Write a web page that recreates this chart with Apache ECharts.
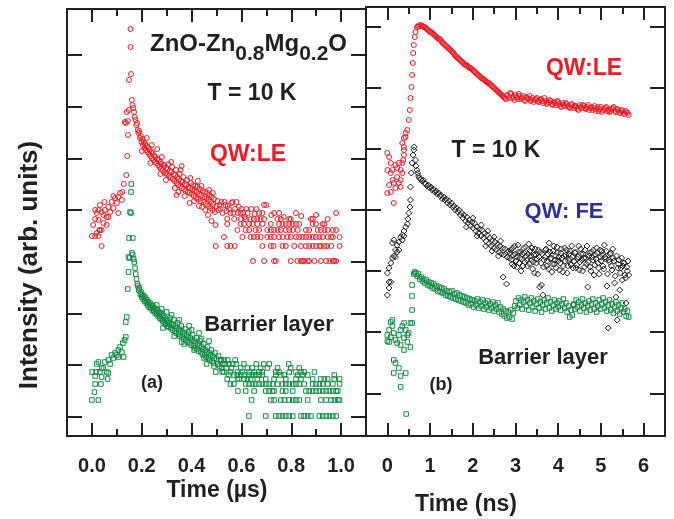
<!DOCTYPE html>
<html><head><meta charset="utf-8">
<script src="https://cdn.jsdelivr.net/npm/echarts@6.0.0/dist/echarts.min.js"></script>
<style>html,body{margin:0;padding:0;background:#fff}#c{width:674px;height:519px}</style>
</head><body><div id="c"></div>
<script>
// ---------- axis ticks / labels ----------
const leftTicks = [0, 0.2, 0.4, 0.6, 0.8, 1.0];
const leftMinor = [0.1, 0.3, 0.5, 0.7, 0.9];
const rightTicks = [0, 1, 2, 3, 4, 5, 6];
const rightMinor = [0.5, 1.5, 2.5, 3.5, 4.5, 5.5];
const leftYTicks = [19.3, 71, 122.7, 174.3, 226, 277.7, 329.3, 381];
const rightYTicks = [42.7, 103.8, 164.9, 226, 287.1, 348.2, 409.3];

// ---------- panel (a): QW:LE, time in µs, intensity arb. ----------
const aLE = [
[0.000,200],[0.005,211],[0.013,200],[0.013,217],[0.013,226],[0.019,223],[0.019,203],[0.026,200],[0.026,216],[0.026,226],[0.030,206],[0.032,206],[0.032,231],[0.039,206],[0.039,190],[0.039,224],[0.046,221],[0.046,213],[0.050,234],[0.052,226],[0.059,219],[0.059,211],[0.066,229],[0.066,219],[0.073,224],[0.079,234],[0.086,228],[0.086,240],[0.093,238],[0.100,233],[0.106,223],[0.106,239],[0.113,243],[0.120,236],[0.122,244],[0.128,252],
[0.132,314],[0.137,313],[0.138,261],[0.140,324],[0.142,280],[0.144,315],[0.145,301],[0.148,326],[0.149,356],[0.155,389],[0.155,407],[0.157,362],
[0.160,336],[0.163,331],[0.166,328],[0.169,324],[0.172,319],[0.175,316],[0.178,311],[0.181,313],[0.184,306],[0.187,303],[0.190,305],[0.193,298],[0.196,300],[0.199,294],[0.202,297],[0.205,291],[0.208,294],[0.211,288],[0.214,292],[0.217,286],[0.220,290],[0.223,284],[0.226,288],[0.229,282],[0.232,286],[0.235,280],[0.238,284],[0.241,278],[0.244,283],[0.247,276],[0.250,280],[0.253,274],[0.256,279],[0.259,273],[0.262,277],[0.265,271],[0.268,276],[0.271,269],[0.274,274],[0.277,267],[0.280,272],[0.283,266],[0.286,271],[0.289,264],[0.292,270],[0.295,263],[0.298,268],[0.301,262],[0.304,267],[0.307,272],[0.310,260],[0.313,265],[0.316,258],[0.319,264],[0.322,269],[0.325,257],[0.328,262],[0.331,255],[0.334,261],[0.337,266],[0.340,253],[0.343,259],[0.346,251],[0.349,257],[0.352,262],[0.355,250],[0.358,255],[0.361,248],[0.364,254],[0.367,259],[0.370,247],[0.373,252],[0.376,245],[0.379,251],[0.382,256],[0.385,244],[0.388,249],[0.391,243],[0.394,248],[0.397,253],[0.400,242],[0.403,247],[0.406,251],[0.409,240],[0.412,245],[0.415,250],[0.418,238],[0.421,244],[0.424,249],[0.427,237],[0.430,242],[0.433,247],[0.436,235],[0.439,241],[0.442,229],[0.445,245],[0.448,234],[0.451,239],[0.454,244],[0.457,232],[0.460,238],[0.463,243],[0.466,230],[0.469,236],[0.472,241],[0.475,228],[0.478,234],[0.481,239],[0.484,226],[0.487,232],[0.490,237],[0.493,224],[0.496,211],[0.497,190],[0.500,230],[0.504,235],[0.508,226],
[0.200,285],[0.220,298],[0.235,273],[0.240,291],[0.262,287],[0.275,262],[0.281,279],[0.297,256],[0.318,274],[0.333,248],[0.340,241],[0.347,244],[0.356,266],[0.360,270],[0.372,240],[0.392,233],[0.395,258],[0.410,235],[0.425,255],[0.430,230],[0.440,250],[0.455,226],[0.466,221],[0.470,246],[0.480,215],[0.485,243],
[0.540,225],[0.545,230],[0.560,233],[0.590,229],[0.613,219],[0.653,222],[0.720,221],[0.770,219],[0.840,220],[0.900,221]
];
const aLE_levels = [234, 231, 227, 223, 217, 212, 206, 199, 190, 175];
const aLE_levelTimes = [
[0.52,0.532,0.564,0.58],
[0.512,0.536,0.691,0.70],
[0.516,0.55,0.575,0.60,0.62,0.64,0.66],
[0.524,0.556,0.568,0.585,0.597,0.607,0.624,0.671,0.684,0.731,0.751,0.819,0.98],
[0.543,0.571,0.597,0.617,0.637,0.65,0.664,0.677,0.691,0.745,0.758,0.792,0.798,0.879,0.886,0.946],
[0.543,0.597,0.61,0.631,0.644,0.664,0.684,0.718,0.751,0.765,0.778,0.792,0.806,0.819,0.832,0.886,0.899,0.926,0.933],
[0.584,0.617,0.631,0.657,0.671,0.704,0.718,0.731,0.745,0.758,0.778,0.792,0.806,0.826,0.859,0.872,0.906,0.919,0.933,0.946,0.967,0.98],
[0.53,0.604,0.637,0.65,0.664,0.677,0.704,0.718,0.731,0.751,0.765,0.785,0.798,0.819,0.832,0.845,0.859,0.872,0.886,0.899,0.913,0.926,0.946,0.96,0.967,0.994],
[0.543,0.556,0.573,0.684,0.718,0.729,0.765,0.778,0.812,0.839,0.859,0.872,0.886,0.899,0.913,0.919,0.933,0.944,0.96,0.994],
[0.646,0.691,0.731,0.738,0.798,0.825,0.839,0.845,0.852,0.866,0.872,0.893,0.919,0.94,0.953,0.967,0.973,0.98]
];

// ---------- panel (a): Barrier layer ----------
const aBar = [
[0.000,36],[0.026,36],[0.010,44],[0.001,64],[0.013,52],[0.036,52],[0.013,60],[0.017,64],[0.019,72],[0.026,74],[0.032,64],[0.039,59],[0.039,68],[0.046,68],[0.052,74],[0.059,64],[0.063,57],[0.066,76],[0.066,63],[0.073,72],[0.079,81],[0.086,78],[0.093,83],[0.100,81],[0.106,86],[0.106,79],[0.113,89],[0.120,84],[0.124,93],[0.127,79],[0.131,96],[0.136,99],
[0.136,114],[0.140,119],[0.144,147],[0.147,164],[0.147,179],[0.149,198],[0.151,178],[0.153,224],[0.157,223],[0.157,244],[0.158,252],[0.164,198],
[0.161,183],[0.164,181],[0.167,177],[0.170,174],[0.173,168],[0.176,162],[0.179,157],[0.182,152],[0.185,150],[0.188,146],[0.191,148],[0.194,142],[0.197,144],[0.200,139],[0.203,141],[0.206,137],[0.209,140],[0.212,135],[0.215,138],[0.218,133],[0.221,136],[0.224,131],[0.227,134],[0.230,129],[0.233,133],[0.236,128],[0.239,131],[0.242,126],[0.245,130],[0.248,125],[0.251,128],[0.254,123],[0.257,127],[0.260,122],[0.263,126],[0.266,120],[0.269,124],[0.272,118],[0.275,123],[0.278,117],[0.281,121],[0.284,115],[0.287,120],[0.290,113],[0.293,118],[0.296,112],[0.299,116],[0.302,110],[0.305,115],[0.308,109],[0.311,113],[0.314,118],[0.317,108],[0.320,112],[0.323,106],[0.326,111],[0.329,116],[0.332,105],[0.335,110],[0.338,103],[0.341,108],[0.344,113],[0.347,102],[0.350,107],[0.353,100],[0.356,105],[0.359,110],[0.362,99],[0.365,104],[0.368,97],[0.371,102],[0.374,107],[0.377,96],[0.380,101],[0.383,94],[0.386,99],[0.389,104],[0.392,93],[0.395,98],[0.398,91],[0.401,96],[0.404,101],[0.407,90],[0.410,95],[0.413,88],[0.416,93],[0.419,98],[0.422,87],[0.425,92],[0.428,85],[0.431,90],[0.434,95],[0.437,84],[0.440,89],[0.443,82],[0.446,87],[0.449,92],[0.452,81],[0.455,86],[0.458,79],[0.461,84],[0.464,89],[0.467,78],[0.470,83],[0.473,76],[0.476,81],[0.479,86],[0.482,75],[0.485,80],[0.488,73],[0.491,78],[0.494,83],[0.497,64],[0.500,77],[0.504,72],[0.508,80],[0.512,70],[0.516,76],
[0.260,131],[0.280,127],[0.285,108],[0.300,124],[0.320,121],[0.330,100],[0.350,116],[0.360,94],[0.370,92],[0.390,110],[0.400,106],[0.410,86],[0.430,103],[0.440,97],[0.450,78],[0.460,72],[0.470,95],[0.490,70]
];
const aBar_levels = [76, 72, 68, 64, 61, 57, 52, 45, 36, 20];
const aBar_levelTimes = [
[0.52,0.53,0.545,0.575],
[0.525,0.535,0.55,0.565,0.58,0.61,0.66,0.69,0.712,0.79],
[0.52,0.54,0.56,0.597,0.624,0.644,0.677,0.704,0.745,0.798,0.832],
[0.523,0.53,0.556,0.584,0.604,0.631,0.651,0.671,0.684,0.738,0.751,0.792,0.819,0.839,0.852,0.893],
[0.55,0.57,0.584,0.597,0.611,0.631,0.644,0.657,0.671,0.684,0.738,0.758,0.772,0.826,0.845,0.866,0.973],
[0.543,0.584,0.591,0.611,0.624,0.637,0.664,0.698,0.731,0.778,0.819,0.839,0.886,0.919,0.933,0.946,0.973,0.994],
[0.556,0.57,0.617,0.631,0.644,0.657,0.671,0.684,0.698,0.711,0.725,0.745,0.765,0.778,0.792,0.806,0.819,0.832,0.852,0.886,0.899,0.913,0.926,0.946,0.967,0.994],
[0.586,0.617,0.651,0.698,0.711,0.725,0.731,0.765,0.778,0.806,0.859,0.872,0.886,0.899,0.913,0.926,0.94,0.953,0.967,0.98,0.987],
[0.641,0.718,0.731,0.758,0.772,0.792,0.806,0.819,0.832,0.866,0.919,0.94,0.96,0.973,0.987,0.994],
[0.63,0.698,0.738,0.751,0.765,0.778,0.792,0.806,0.839,0.852,0.866,0.879,0.913,0.926,0.94,0.953,0.967,0.98]
];

// ---------- panel (b): QW:LE, time in ns ----------
const bLE = [
[0.00,283],[0.04,279],[0.08,273],[0.00,266],[0.08,263],[0.19,271],[0.27,273],[0.35,273],[0.31,266],[0.23,259],[0.12,256],[0.15,253],[0.27,253],[0.31,256],[0.19,248],[0.08,244],[0.00,243],[0.15,233],[0.23,268],[0.12,266],[0.35,263],[0.31,249],[0.04,251],[0.39,281],[0.37,276],
[0.349,293],[0.386,289],[0.388,298],[0.390,286],[0.426,299],[0.430,303],[0.465,306],[0.502,316],[0.526,326],[0.542,338],[0.565,349],[0.581,361],[0.595,373],[0.605,383],[0.619,391],[0.642,399],[0.658,404],[0.698,409],
[0.70,409],[0.75,410],[0.80,410],[0.85,409],[0.90,408],[0.95,406],[1.00,404],[1.05,403],[1.10,401],[1.15,399],[1.20,397],[1.25,396],[1.30,393],[1.35,391],[1.40,389],[1.45,387],[1.50,385],[1.55,383],[1.60,380],[1.65,378],[1.70,376],[1.75,374],[1.80,372],[1.85,371],[1.90,369],[1.95,368],[2.00,366],[2.05,364],[2.10,362],[2.15,360],[2.20,358],[2.25,357],[2.30,355],[2.35,353],[2.40,352],[2.45,350],[2.50,348],[2.55,346],[2.60,344],[2.65,342],[2.70,340],[2.75,338],[2.80,341],[2.85,338],[2.90,342],[2.95,339],[3.00,341],[3.05,337],[3.10,340],[3.15,338],[3.20,336],[3.25,339],[3.30,337],[3.35,335],[3.40,338],[3.45,336],[3.50,338],[3.55,334],[3.60,337],[3.65,333],[3.70,335],[3.75,333],[3.80,336],[3.85,332],[3.90,334],[3.95,331],[4.00,334],[4.05,330],[4.10,333],[4.15,330],[4.20,332],[4.25,329],[4.30,331],[4.35,328],[4.40,330],[4.45,327],[4.50,331],[4.55,328],[4.60,330],[4.65,327],[4.70,331],[4.75,328],[4.80,326],[4.85,330],[4.90,327],[4.95,325],[5.00,329],[5.05,326],[5.10,328],[5.15,325],[5.20,324],[5.25,327],[5.30,329],[5.35,324],[5.40,326],[5.45,323],[5.50,325],[5.55,322],[5.60,324],[5.65,321],
[0.725,410],[0.775,411],[0.825,410],[0.875,409],[0.925,407],[0.975,405],[1.025,404],[1.075,402],[1.125,400],[1.175,398],[1.225,397],[1.275,394],[1.325,392],[1.375,390],[1.425,388],[1.475,386],[1.525,384],[1.575,381],[1.625,379],[1.675,377],[1.725,375],[1.775,373],[1.825,371],[1.875,370],[1.925,368],[1.975,367],[2.025,365],[2.075,363],[2.125,361],[2.175,359],[2.225,357],[2.275,356],[2.325,354],[2.375,353],[2.425,351],[2.475,349],[2.525,347],[2.575,345],[2.625,343],[2.675,341],[2.725,339],
[2.775,337],[2.825,340],[2.875,343],[2.925,338],[2.975,336],[3.025,339],[3.075,342],[3.125,337],[3.175,340],[3.225,335],[3.275,338],[3.325,340],[3.375,336],[3.425,334],[3.475,337],[3.525,335],[3.575,336],[3.625,335],[3.675,338],[3.725,332],[3.775,334],[3.825,335],[3.875,331],[3.925,333],[3.975,335],[4.025,332],[4.075,329],[4.125,331],[4.175,333],[4.225,330],[4.275,328],[4.325,332],[4.375,330],[4.425,329],[4.475,326],[4.525,329],[4.575,331],[4.625,328],[4.675,329],[4.725,326],[4.775,329],[4.825,328],[4.875,325],[4.925,329],[4.975,327],[5.025,324],[5.075,327],[5.125,329],[5.175,326],[5.225,325],[5.275,328],[5.325,325],[5.375,327],[5.425,324],[5.475,326],[5.525,323],[5.575,325],[5.625,323]
];

// ---------- panel (b): QW:FE ----------
const bFE = [
[0.00,141],[0.04,148],[0.08,154],[0.04,154],[0.00,163],[0.04,168],[0.08,173],[0.12,178],[0.15,180],[0.12,193],[0.15,196],[0.19,186],[0.19,179],[0.23,191],[0.23,184],[0.27,194],[0.27,186],[0.31,199],[0.35,201],[0.35,196],[0.39,205],[0.39,200],[0.43,209],[0.47,212],[0.48,217],[0.50,223],[0.53,229],[0.54,236],[0.54,249],[0.56,263],[0.58,273],[0.60,281],[0.62,286],[0.63,289],
[0.66,276],[0.67,270],[0.69,266],[0.71,263],[0.73,260],[0.75,258],[0.78,257],[0.81,255],[0.84,256],[0.87,253],[0.90,252],[0.93,250],[0.96,251],[0.99,248],[1.02,249],[1.05,246],[1.08,247],[1.11,244],[1.14,245],[1.17,242],[1.20,243],[1.23,240],[1.26,241],[1.29,237],[1.32,239],[1.35,236],[1.38,237],[1.41,233],[1.44,235],[1.47,231],[1.50,233],[1.53,229],[1.56,230],[1.59,226],[1.62,228],[1.65,224],[1.68,226],[1.71,221],[1.74,223],[1.77,218],[1.80,221],[1.83,215],[1.86,219],[1.89,213],[1.92,216],[1.95,210],[1.98,214],[2.01,208],[2.04,213],[2.07,205],[2.10,209],[2.13,203],[2.16,207],[2.19,200],[2.22,206],[2.25,198],[2.28,203],[2.31,195],[2.34,201],[2.37,192],[2.40,198],[2.43,190],[2.46,196],[2.49,188],[2.52,194],[2.55,186],[2.58,192],[2.61,184],[2.64,190],[2.67,182],[2.70,188],[2.71,159],[2.73,181],[2.76,187],[2.79,152],[2.80,179],[2.83,185],
[1.85,209],[2.00,218],[2.10,200],[2.20,211],[2.30,190],[2.35,205],[2.45,185],[2.50,199],[2.60,180],[2.65,195],
[2.86,178],[2.89,186],[2.92,172],[2.95,181],[2.98,190],[3.01,175],[3.04,169],[3.07,184],[3.10,178],[3.13,165],[3.16,182],[3.19,188],[3.22,174],[3.25,180],[3.28,170],[3.31,192],[3.34,185],[3.37,176],[3.40,167],[3.43,181],[3.46,187],[3.49,173],[3.52,162],[3.55,179],[3.58,184],[3.61,151],[3.64,141],[3.67,176],[3.70,186],[3.73,170],[3.76,182],[3.79,193],[3.82,177],[3.85,164],[3.88,185],[3.91,172],[3.94,180],[3.97,189],[4.00,175],[4.03,166],[4.06,183],[4.09,178],[4.12,170],[4.15,188],[4.18,181],[4.21,163],[4.24,176],[4.27,185],[4.30,171],[4.33,179],[4.36,131],[4.39,183],[4.42,168],[4.45,177],[4.48,190],[4.51,174],[4.54,182],[4.57,165],[4.60,178],[4.63,186],[4.66,172],[4.69,149],[4.72,180],[4.75,169],[4.78,184],[4.81,176],[4.84,161],[4.87,181],[4.90,188],[4.93,173],[4.96,162],[4.99,179],[5.02,185],[5.05,170],[5.08,191],[5.11,177],[5.14,150],[5.17,108],[5.20,174],[5.23,183],[5.26,166],[5.29,178],[5.32,153],[5.35,139],[5.38,116],[5.41,172],[5.44,146],[5.47,168],[5.50,156],[5.53,173],[5.56,161],[5.59,133],[5.62,165],[5.65,161],
[2.875,183],[2.905,176],[2.935,188],[2.965,170],[2.995,182],[3.025,179],[3.055,191],[3.085,173],[3.115,184],[3.145,177],[3.175,170],[3.205,183],[3.235,189],[3.265,176],[3.295,182],[3.325,172],[3.355,180],[3.385,188],[3.415,174],[3.445,163],[3.475,181],[3.505,177],[3.535,186],[3.565,149],[3.595,173],[3.625,182],[3.655,169],[3.685,179],[3.715,187],[3.745,175],[3.775,167],[3.805,184],[3.835,178],[3.865,172],[3.895,190],[3.925,176],[3.955,168],[3.985,183],[4.015,179],[4.045,173],[4.075,187],[4.105,164],[4.135,180],[4.165,175],[4.195,186],[4.225,170],[4.255,182],[4.285,177],[4.315,190],[4.345,168],[4.375,175],[4.405,184],[4.435,171],[4.465,179],[4.495,166],[4.525,187],[4.555,176],[4.585,182],[4.615,169],[4.645,178],[4.675,190],[4.705,174],[4.735,183],[4.765,165],[4.795,179],[4.825,186],[4.855,171],[4.885,177],[4.915,183],[4.945,168],[4.975,186],[5.005,175],[5.035,181],[5.065,167],[5.095,179],[5.125,185],[5.155,162],[5.185,176],[5.215,182],[5.245,170],[5.275,187],[5.305,175],[5.335,160],[5.365,180],[5.395,168],[5.425,176],[5.455,163],[5.485,178],[5.515,170],[5.545,173],[5.575,158],[5.605,169],[5.635,175]
];

// ---------- panel (b): Barrier layer ----------
const bBar = [
[0.08,114],[0.12,110],[0.04,106],[0.00,101],[0.00,95],[0.08,99],[0.15,103],[0.19,96],[0.23,93],[0.27,101],[0.31,106],[0.35,110],[0.39,113],[0.43,106],[0.47,101],[0.50,103],[0.54,113],[0.58,113],[0.39,98],[0.47,94],[0.54,89],[0.39,86],[0.31,91],[0.15,76],[0.19,73],[0.27,68],[0.15,63],[0.31,60],[0.43,63],[0.31,49],[0.44,22],[0.12,116],[0.04,94],
[0.58,126],[0.58,140],[0.58,151],[0.62,162],[0.64,164],
[0.67,163],[0.70,160],[0.73,162],[0.76,157],[0.79,159],[0.82,155],[0.85,157],[0.88,153],[0.91,156],[0.94,151],[0.97,154],[1.00,150],[1.03,153],[1.06,148],[1.09,152],[1.12,147],[1.15,150],[1.18,145],[1.21,149],[1.24,144],[1.27,148],[1.30,143],[1.33,147],[1.36,141],[1.39,145],[1.42,140],[1.45,144],[1.48,139],[1.51,145],[1.54,138],[1.57,142],[1.60,137],[1.63,143],[1.66,136],[1.69,141],[1.72,135],[1.75,140],[1.78,134],[1.81,139],[1.84,133],[1.87,138],[1.90,131],[1.93,137],[1.96,132],[1.99,136],[2.02,129],[2.05,135],[2.08,131],[2.11,137],[2.14,128],[2.17,134],[2.20,130],[2.23,136],[2.26,127],[2.29,133],[2.32,129],[2.35,135],[2.38,126],[2.41,132],[2.44,128],[2.47,134],[2.50,125],[2.53,131],[2.56,127],[2.59,133],[2.62,124],[2.65,129],[2.68,122],[2.71,127],[2.74,120],[2.77,125],[2.80,118],[2.83,124],[2.86,119],[2.89,126],[2.92,117],[2.95,123],[2.98,130],[3.01,135],[3.04,128],[3.07,138],[3.10,131],[3.13,136],[3.16,127],[3.19,134],[3.22,139],[3.25,130],[3.28,136],[3.31,126],[3.34,133],[3.37,138],[3.40,129],[3.43,135],[3.46,125],[3.49,132],[3.52,137],[3.55,128],[3.58,134],[3.61,124],[3.64,131],[3.67,136],[3.70,127],[3.73,133],[3.76,138],[3.79,128],[3.82,134],[3.85,125],[3.88,131],[3.91,136],[3.94,127],[3.97,133],[4.00,129],[4.03,135],[4.06,126],[4.09,132],[4.12,137],[4.15,128],[4.18,133],[4.21,124],[4.24,130],[4.27,119],[4.30,126],[4.33,121],[4.36,132],[4.39,127],[4.42,136],[4.45,129],[4.48,134],[4.51,125],[4.54,131],[4.57,137],[4.60,128],[4.63,133],[4.66,124],[4.69,130],[4.72,135],[4.75,126],[4.78,132],[4.81,137],[4.84,127],[4.87,133],[4.90,124],[4.93,130],[4.96,136],[4.99,127],[5.02,132],[5.05,138],[5.08,128],[5.11,134],[5.14,125],[5.17,131],[5.20,136],[5.23,126],[5.26,132],[5.29,123],[5.32,129],[5.35,134],[5.38,125],[5.41,131],[5.44,122],[5.47,128],[5.50,133],[5.53,124],[5.56,127],[5.59,120],[5.62,125],[5.65,119]
];

// ---------- build ----------
const RED = '#ED1C24', GREEN = '#138A43', BLACK = '#231F20', NAVY = '#2E3192';
const FONT = '"Liberation Sans", Arial, Helvetica, sans-serif';

function fromLevels(levels, times) {
  const out = [];
  levels.forEach((lv, i) => times[i].forEach(t => out.push([t, lv])));
  return out;
}

function xAx(grid, pos, min, max, ticks, len, line, labels) {
  return {
    type: 'value', gridIndex: grid, position: pos, min: min, max: max,
    axisLine: {show: line, onZero: false, lineStyle: {color: BLACK, width: 2}},
    axisTick: {show: true, inside: true, length: len, customValues: ticks, lineStyle: {color: BLACK, width: 2}},
    axisLabel: labels ? {show: true, customValues: labels.v, formatter: labels.f, margin: 20,
      fontSize: 20, fontWeight: 'bold', fontFamily: FONT, color: BLACK} : {show: false},
    splitLine: {show: false}
  };
}
function yAx(grid, pos, max, ticks, show) {
  return {
    type: 'value', gridIndex: grid, position: pos, min: 0, max: max, show: show,
    axisLine: {show: true, onZero: false, lineStyle: {color: BLACK, width: 2}},
    axisTick: {show: true, inside: true, length: 15, customValues: ticks, lineStyle: {color: BLACK, width: 2}},
    axisLabel: {show: false}, splitLine: {show: false}
  };
}
function sc(data, xi, yi, symbol, size, color) {
  return {type: 'scatter', data: data, xAxisIndex: xi, yAxisIndex: yi, symbol: symbol, symbolSize: size,
    silent: true, emphasis: {disabled: true},
    itemStyle: {color: 'rgba(0,0,0,0)', borderColor: color, borderWidth: 1, opacity: 1}};
}

const measure = document.createElement('canvas').getContext('2d');
function frags(list, x0, yMid, color) {
  let x = x0; const out = [];
  list.forEach(([t, s, dy]) => {
    const font = 'bold ' + s + 'px ' + FONT;
    measure.font = font;
    out.push({type: 'text', z: 10, style: {x: x, y: yMid + dy, text: t, font: font, fill: color,
      textAlign: 'left', textVerticalAlign: 'middle'}});
    x += measure.measureText(t).width;
  });
  return out;
}
function txt(x, y, text, size, color, rot) {
  return {type: 'text', z: 10, x: x, y: y, rotation: rot || 0,
    style: {x: 0, y: 0, text: text, font: 'bold ' + size + 'px ' + FONT, fill: color,
      textAlign: 'center', textVerticalAlign: 'middle'}};
}

const grids = [
  {left: 67, top: 9, width: 299, height: 427},
  {left: 67, top: 9, width: 299, height: 427},
  {left: 366, top: 7, width: 299, height: 429},
  {left: 366, top: 7, width: 299, height: 429}
];

const option = {
  animation: false,
  backgroundColor: '#ffffff',
  grid: grids,
  xAxis: [
    xAx(0, 'bottom', -0.1, 1.1, leftTicks, 13, true, {v: leftTicks, f: v => v.toFixed(1)}),
    xAx(0, 'top', -0.1, 1.1, leftTicks, 13, true, null),
    xAx(1, 'bottom', -0.1, 1.1, leftMinor, 7, false, null),
    xAx(1, 'top', -0.1, 1.1, leftMinor, 7, false, null),
    xAx(2, 'bottom', -0.5, 6.5, rightTicks, 13, true, {v: rightTicks, f: v => String(v)}),
    xAx(2, 'top', -0.5, 6.5, rightTicks, 13, true, null),
    xAx(3, 'bottom', -0.5, 6.5, rightMinor, 7, false, null),
    xAx(3, 'top', -0.5, 6.5, rightMinor, 7, false, null)
  ],
  yAxis: [
    yAx(0, 'left', 427, leftYTicks, true),
    yAx(0, 'right', 427, leftYTicks, true),
    yAx(1, 'left', 427, [], false),
    yAx(2, 'left', 429, rightYTicks, true),
    yAx(2, 'right', 429, rightYTicks, true),
    yAx(3, 'left', 429, [], false)
  ],
  series: [
    sc(aLE.concat(fromLevels(aLE_levels, aLE_levelTimes)), 0, 0, 'circle', 5, RED),
    sc(aBar.concat(fromLevels(aBar_levels, aBar_levelTimes)), 0, 0, 'rect', 4.5, GREEN),
    sc(bLE, 4, 3, 'circle', 5, RED),
    sc(bFE, 4, 3, 'diamond', 6, BLACK),
    sc(bBar, 4, 3, 'rect', 4.5, GREEN)
  ],
  graphic: [].concat(
    frags([['ZnO-Zn', 24, 0], ['0.8', 21, 10], ['Mg', 24, 0], ['0.2', 21, 10], ['O', 24, 0]], 150, 44, BLACK),
    [
      txt(252, 94, 'T = 10 K', 23, BLACK),
      txt(248, 155, 'QW:LE', 23, RED),
      txt(269, 325, 'Barrier layer', 22, BLACK),
      txt(152, 383, '(a)', 18, BLACK),
      txt(584, 69, 'QW:LE', 23, RED),
      txt(496, 151, 'T = 10 K', 23, BLACK),
      txt(564, 212, 'QW: FE', 22, NAVY),
      txt(543, 358, 'Barrier layer', 22, BLACK),
      txt(441, 385, '(b)', 18, BLACK),
      txt(217, 491, 'Time (µs)', 23, BLACK),
      txt(466, 505, 'Time (ns)', 23, BLACK),
      txt(30, 265, 'Intensity (arb. units)', 26, BLACK, Math.PI / 2)
    ]
  )
};

const chart = echarts.init(document.getElementById('c'), null, {renderer: 'canvas'});
chart.setOption(option);
</script>
</body></html>
